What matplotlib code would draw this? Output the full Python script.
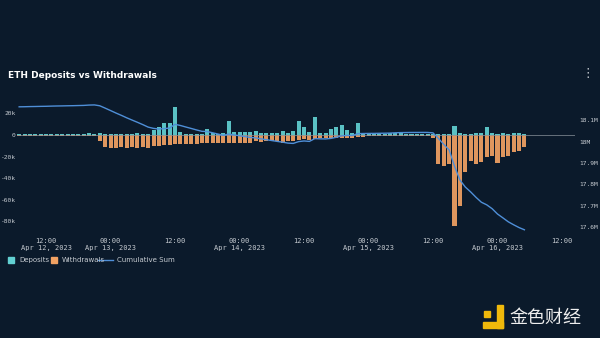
import numpy as np
import matplotlib
matplotlib.use("Agg")
import matplotlib.pyplot as plt
import matplotlib.dates as mdates
from matplotlib.patches import Rectangle
from matplotlib.lines import Line2D
from datetime import datetime, timedelta

# hourly data, first bar at Apr 12 2023 07:00 (values in thousands of ETH)
start_time = datetime(2023, 4, 12, 7)
deposits = [
    1.1, 1.0, 1.2, 1.0, 1.1, 1.0, 1.3, 1.1, 1.0, 1.1, 1.0, 1.2, 1.1, 2.2, 1.2,
    2.0, 0.5, 0.6, 0.5, 0.6, 0.5, 0.8, 1.5, 0.6, 0.8,
    4.5, 7.0, 11.0, 11.5, 26.0, 2.5, 1.0, 1.2, 1.0, 1.0,
    6.0, 1.5, 1.2, 1.5, 13.0, 3.0, 3.0, 3.0, 3.0, 4.0, 2.0, 2.0, 2.0, 2.0,
    4.0, 1.5, 4.0, 13.0, 7.0, 2.5, 17.0, 2.0, 2.0, 5.5, 7.7, 9.3, 5.0, 2.0, 11.0, 2.0,
    1.2, 1.0, 1.3, 1.1, 1.4, 2.2, 1.8, 1.0, 1.2, 0.9, 1.0, 0.8,
    0.5, 1.0, 0.5, 1.0, 8.4, 1.5, 1.0, 1.0, 1.5, 2.0, 7.7, 1.5, 1.0, 2.0, 1.0, 2.0, 2.0, 0.5,
]
withdrawals = [
    0.5, 0.6, 0.5, 0.6, 0.5, 0.6, 0.5, 0.5, 0.6, 0.5, 0.6, 0.5, 0.5, 0.6, 0.5,
    6.0, 11.5, 12.0, 12.0, 11.5, 12.0, 11.5, 12.0, 11.5, 12.5,
    10.5, 10.0, 9.0, 9.0, 8.5, 8.0, 8.0, 8.0, 8.0, 7.5,
    7.0, 7.5, 7.0, 7.5, 7.0, 7.0, 7.0, 7.0, 7.0, 6.0, 6.5, 6.0, 6.0, 6.0,
    7.5, 6.0, 5.5, 4.5, 4.0, 4.5, 4.0, 3.0, 2.5, 3.0, 2.5, 2.5, 3.0, 2.5, 2.0, 1.5,
    0.8, 0.9, 0.8, 0.7, 0.9, 0.8, 0.8, 0.7, 0.8, 0.9, 0.8, 1.0,
    2.5, 27.0, 28.5, 27.0, 85.0, 66.0, 34.0, 24.0, 27.0, 25.0, 20.0, 19.5, 26.0, 20.0, 19.5, 16.0, 15.0, 11.0,
]
start_balance = 18.163e6

times = [start_time + timedelta(hours=i) for i in range(len(deposits))]
dep = np.array(deposits) * 1000
wd = -np.array(withdrawals) * 1000
cum = start_balance + np.cumsum(dep + wd)

bg = "#0b1a2b"
teal = "#62d0d2"
orange = "#f2a263"
line_c = "#4f8fd8"
tick_c = "#c5cad0"

fig = plt.figure(figsize=(6, 3.38), dpi=100, facecolor=bg)
ax = fig.add_axes([17 / 600, 1 - 232 / 338, (575 - 17) / 600, (232 - 98) / 338])
ax.set_facecolor(bg)
ax2 = ax.twinx()

x = mdates.date2num(times)
w = 0.75 / 24
ax.bar(x, dep, width=w, color=teal, alpha=0.92, zorder=2)
ax.bar(x, wd, width=w, color=orange, alpha=0.92, zorder=2)
ax.axhline(0, color="#8a939c", lw=0.5, zorder=3)
ax2.plot(x, cum, color=line_c, lw=1.0, zorder=4)

ax.set_xlim(mdates.date2num(datetime(2023, 4, 12, 6, 36)),
            mdates.date2num(datetime(2023, 4, 16, 14, 25)))
ax.set_ylim(-90200, 34400)
ax2.set_ylim(17.576e6, 18.205e6)

ax.set_yticks([20000, 0, -20000, -40000, -60000, -80000])
ax.set_yticklabels(["20k", "0", "-20k", "-40k", "-60k", "-80k"])
ax2.set_yticks([18.1e6, 18.0e6, 17.9e6, 17.8e6, 17.7e6, 17.6e6])
ax2.set_yticklabels(["18.1M", "18M", "17.9M", "17.8M", "17.7M", "17.6M"])

ticks = [datetime(2023, 4, 12, 12) + timedelta(hours=12 * k) for k in range(9)]
labels = []
for k, t in enumerate(ticks):
    if k == 0 or t.hour == 0:
        labels.append(t.strftime("%H:%M") + "\n" + t.strftime("%b %d, %Y").replace(" 0", " "))
    else:
        labels.append(t.strftime("%H:%M"))
ax.set_xticks(mdates.date2num(ticks))
ax.set_xticklabels(labels)

for a in (ax, ax2):
    for s in a.spines.values():
        s.set_visible(False)
    a.tick_params(length=0, colors=tick_c, labelsize=5)
    for lab in a.get_xticklabels() + a.get_yticklabels():
        lab.set_family("DejaVu Sans Mono")
ax.tick_params(axis="y", pad=1, labelsize=4.5)
ax2.tick_params(axis="y", pad=3, labelsize=4.5)
ax.tick_params(axis="x", pad=4)
for lab in ax.get_xticklabels():
    lab.set_linespacing(1.3)

# title and menu
fig.text(8 / 600, 1 - 75 / 338, "ETH Deposits vs Withdrawals", color="white",
         fontsize=6.5, fontweight="bold", va="center", ha="left")
fig.text(588 / 600, 1 - 73 / 338, "\u22ee", color="#c5cad0", fontsize=9,
         va="center", ha="center")

# legend drawn by hand
def px(xp, yp):
    return xp / 600, 1 - yp / 338

ly = 260
fig.add_artist(Rectangle(px(8, ly + 3), 6 / 600, 6 / 338, color=teal, transform=fig.transFigure))
fig.text(*px(19, ly), "Deposits", color=tick_c, fontsize=5, va="center")
fig.add_artist(Rectangle(px(51, ly + 3), 6 / 600, 6 / 338, color=orange, transform=fig.transFigure))
fig.text(*px(62, ly), "Withdrawals", color=tick_c, fontsize=5, va="center")
fig.add_artist(Line2D([98 / 600, 113 / 600], [1 - ly / 338] * 2, color=line_c, lw=1.0,
                      transform=fig.transFigure))
fig.text(*px(117, ly), "Cumulative Sum", color=tick_c, fontsize=5, va="center")

# watermark
gold = "#f0b90b"
for (x0, y0, ww, hh) in [(484, 311, 6, 6), (497, 305, 6, 23), (483, 322, 20, 6)]:
    fig.add_artist(Rectangle(px(x0, y0 + hh), ww / 600, hh / 338, color=gold,
                             transform=fig.transFigure))
fig.text(*px(509, 318), "金色财经", color="#eeeeee", fontsize=13, va="center",
         ha="left", family=["Noto Sans CJK SC", "DejaVu Sans"])

fig.savefig("out.png", dpi=100, facecolor=bg)
